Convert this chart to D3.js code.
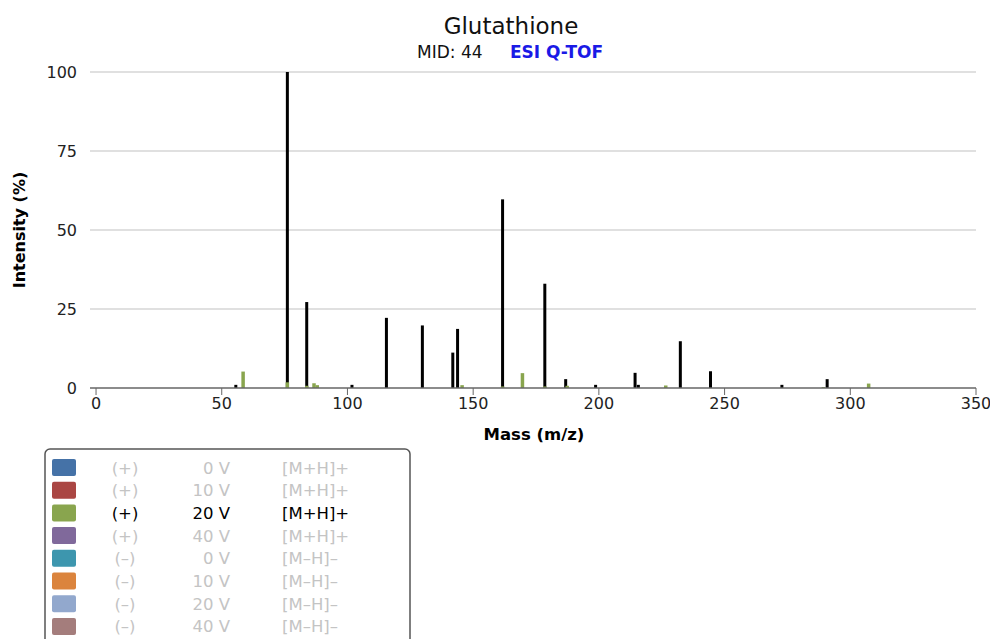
<!DOCTYPE html>
<html>
<head>
<meta charset="utf-8">
<script src="https://cdn.jsdelivr.net/npm/d3@7"></script>
<style>
  body { margin: 0; background: #fff; }
  svg text { font-family: "DejaVu Sans", Verdana, sans-serif; }
</style>
</head>
<body>
<div id="chart"></div>
<script>
// reference (black) spectrum
const refMz = [55.6, 76.1, 83.8, 101.8, 115.5, 129.8, 141.9, 143.8, 161.7, 178.5, 186.8, 198.7, 214.4, 215.7, 232.4, 244.4, 272.8, 290.8];
const refInt = [1.0, 100, 27.2, 1.0, 22.2, 19.8, 11.2, 18.7, 59.7, 33.0, 2.8, 1.0, 4.8, 1.0, 14.8, 5.3, 1.0, 2.8];

// predicted 20 V spectrum (green)
const predMz = [58.5, 76.1, 83.8, 86.7, 88.0, 145.6, 161.7, 169.6, 178.5, 187.4, 226.6, 289.3, 307.3];
const predInt = [5.2, 1.8, 0.7, 1.5, 0.9, 0.9, 0.5, 4.7, 0.5, 0.7, 0.8, 0.3, 1.4];

const xTicks = [0, 50, 100, 150, 200, 250, 300, 350];
const yTicks = [0, 25, 50, 75, 100];

const legendMode = ["(+)", "(+)", "(+)", "(+)", "(\u2013)", "(\u2013)", "(\u2013)", "(\u2013)"];
const legendVolt = ["0 V", "10 V", "20 V", "40 V", "0 V", "10 V", "20 V", "40 V"];
const legendAdduct = ["[M+H]+", "[M+H]+", "[M+H]+", "[M+H]+", "[M\u2013H]\u2013", "[M\u2013H]\u2013", "[M\u2013H]\u2013", "[M\u2013H]\u2013"];
const legendColors = ["#4572A7", "#AA4643", "#89A54E", "#80699B", "#3D96AE", "#DB843D", "#92A8CD", "#A47D7C"];
const activeIndex = 2;

const width = 990, height = 639;

const svg = d3.select("#chart").append("svg")
  .attr("width", width)
  .attr("height", height);

const x = d3.scaleLinear().domain([-2.4, 350]).range([90, 976]);
const y = d3.scaleLinear().domain([0, 100]).range([388, 72]);

// gridlines
svg.append("g")
  .selectAll("line")
  .data(yTicks.filter(d => d > 0))
  .enter().append("line")
  .attr("x1", x.range()[0]).attr("x2", x.range()[1])
  .attr("y1", d => y(d)).attr("y2", d => y(d))
  .attr("stroke", "#d6d6d6")
  .attr("stroke-width", 1.5);

// y tick labels
svg.append("g")
  .selectAll("text")
  .data(yTicks)
  .enter().append("text")
  .attr("x", 77)
  .attr("y", d => y(d) + 6)
  .attr("text-anchor", "end")
  .style("font-size", "16px")
  .attr("fill", "#222")
  .text(d => d);

// black reference peaks
const refData = refMz.map((m, i) => ({ mz: m, v: refInt[i] }));
svg.append("g")
  .selectAll("line")
  .data(refData)
  .enter().append("line")
  .attr("x1", d => x(d.mz)).attr("x2", d => x(d.mz))
  .attr("y1", y(0)).attr("y2", d => y(d.v))
  .attr("stroke", "#000")
  .attr("stroke-width", 3);

// green predicted peaks
const predData = predMz.map((m, i) => ({ mz: m, v: predInt[i] }));
svg.append("g")
  .selectAll("line")
  .data(predData)
  .enter().append("line")
  .attr("x1", d => x(d.mz)).attr("x2", d => x(d.mz))
  .attr("y1", y(0)).attr("y2", d => y(d.v))
  .attr("stroke", legendColors[activeIndex])
  .attr("stroke-width", 3.5);

// x axis
const xAxis = svg.append("g")
  .attr("transform", `translate(0,${y(0)})`);
xAxis.append("line")
  .attr("x1", x.range()[0]).attr("x2", x.range()[1])
  .attr("stroke", "#666")
  .attr("stroke-width", 1.5);
xAxis.selectAll("line.tick")
  .data(xTicks)
  .enter().append("line")
  .attr("class", "tick")
  .attr("x1", d => x(d)).attr("x2", d => x(d))
  .attr("y1", 0).attr("y2", 7)
  .attr("stroke", "#666")
  .attr("stroke-width", 1);
xAxis.selectAll("text")
  .data(xTicks)
  .enter().append("text")
  .attr("x", d => x(d))
  .attr("y", 21)
  .attr("text-anchor", "middle")
  .style("font-size", "16px")
  .attr("fill", "#222")
  .text(d => d);

// axis titles
svg.append("text")
  .attr("x", 534)
  .attr("y", 440)
  .attr("text-anchor", "middle")
  .style("font-size", "16.5px")
  .style("font-weight", "bold")
  .text("Mass (m/z)");

svg.append("text")
  .attr("transform", `translate(25,${(y(0) + y(100)) / 2}) rotate(-90)`)
  .attr("text-anchor", "middle")
  .style("font-size", "16px")
  .style("font-weight", "bold")
  .text("Intensity (%)");

// title
svg.append("text")
  .attr("x", 511)
  .attr("y", 34)
  .attr("text-anchor", "middle")
  .style("font-size", "23px")
  .attr("fill", "#111")
  .text("Glutathione");

svg.append("text")
  .attr("x", 417)
  .attr("y", 58)
  .style("font-size", "17px")
  .attr("fill", "#111")
  .text("MID: 44");
svg.append("text")
  .attr("x", 510)
  .attr("y", 58)
  .style("font-size", "17px")
  .style("font-weight", "bold")
  .attr("fill", "#1a1ae6")
  .text("ESI Q-TOF");

// legend
const legend = svg.append("g").attr("transform", "translate(45,449)");
legend.append("rect")
  .attr("x", 0).attr("y", 0)
  .attr("width", 365).attr("height", 210)
  .attr("rx", 5)
  .attr("fill", "#fff")
  .attr("stroke", "#555")
  .attr("stroke-width", 1.5);

const rows = legend.selectAll("g.row")
  .data(legendColors)
  .enter().append("g")
  .attr("class", "row")
  .attr("transform", (d, i) => `translate(0,${10 + i * 22.7})`);

rows.append("rect")
  .attr("x", 7).attr("y", 0)
  .attr("width", 24).attr("height", 17)
  .attr("rx", 2)
  .attr("fill", d => d);

const rowFill = (d, i) => i === activeIndex ? "#000" : "#c4c4c4";
rows.append("text")
  .attr("x", 80).attr("y", 14.5)
  .attr("text-anchor", "middle")
  .style("font-size", "16.5px")
  .attr("fill", rowFill)
  .text((d, i) => legendMode[i]);
rows.append("text")
  .attr("x", 185).attr("y", 14.5)
  .attr("text-anchor", "end")
  .style("font-size", "16.5px")
  .attr("fill", rowFill)
  .text((d, i) => legendVolt[i]);
rows.append("text")
  .attr("x", 237).attr("y", 14.5)
  .style("font-size", "16.5px")
  .attr("fill", rowFill)
  .text((d, i) => legendAdduct[i]);
</script>
</body>
</html>
